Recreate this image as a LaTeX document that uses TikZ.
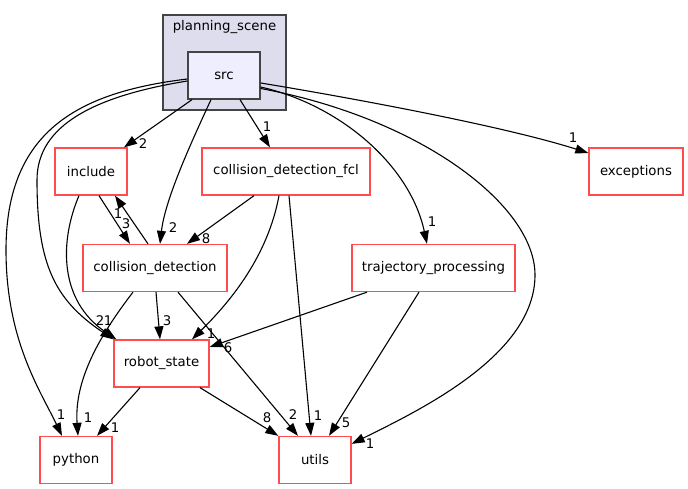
\documentclass[tikz,border=0pt]{standalone}
\usepackage{fontspec}
\setmainfont{DejaVu Sans}
\usetikzlibrary{arrows.meta}
\definecolor{boxred}{HTML}{FF4D4D}
\definecolor{clfill}{HTML}{DDDDEE}
\definecolor{clline}{HTML}{444444}
\definecolor{srcfill}{HTML}{EEEEFF}
\begin{document}
\begin{tikzpicture}[x=1pt,y=-1pt,
  font=\fontsize{13.3}{16}\selectfont,
  dirbox/.style={draw=boxred, line width=1.3pt, fill=white, minimum height=47pt, inner sep=0pt},
  edge/.style={draw=black, line width=1.1pt, -{Triangle[length=13pt,width=9pt]}},
  lab/.style={inner sep=0pt}]
\useasboundingbox (0,0) rectangle (688,489);
% cluster
\node[draw=clline, fill=clfill, line width=1.2pt, minimum width=123pt, minimum height=95pt, inner sep=0pt] (cluster) at (224.5,62.5) {};
\node[lab] (cltitle) at (224.5,27) {planning\_scene};
\node[draw=clline, fill=srcfill, line width=1.3pt, minimum width=72pt, minimum height=47pt, inner sep=0pt] (src) at (224,75.5) {src};
% nodes
\node[dirbox, minimum width=72pt] (inc) at (91,171.5) {include};
\node[dirbox, minimum width=168pt] (fcl) at (286,171.5) {collision\_detection\_fcl};
\node[dirbox, minimum width=94pt] (exc) at (636,171.5) {exceptions};
\node[dirbox, minimum width=144pt] (cd) at (155,268) {collision\_detection};
\node[dirbox, minimum width=163pt] (tp) at (433.5,268) {trajectory\_processing};
\node[dirbox, minimum width=95pt] (rs) at (161.5,363.5) {robot\_state};
\node[dirbox, minimum width=72pt] (py) at (76,460) {python};
\node[dirbox, minimum width=72pt] (ut) at (315,460) {utils};
% edges from src
\draw[edge] ([xshift=-32pt]src.south) -- ([xshift=33pt]inc.north);
\draw[edge] ([xshift=-13pt]src.south) .. controls (190,145) and (165,200) .. ([xshift=5pt]cd.north);
\draw[edge] ([xshift=16pt]src.south) -- ([xshift=-16pt]fcl.north);
\draw[edge] ([yshift=-7.5pt]src.east) .. controls (340,96) and (500,125) .. ([yshift=18.5pt]exc.west);
\draw[edge] ([yshift=-11.5pt]src.east) .. controls (340,105) and (410,165) .. ([xshift=-6.5pt]tp.north);
\coordinate (uturn) at (535,275);
\draw[edge] ([yshift=-13pt]src.east) .. controls (420,118) and (535,205) .. (uturn) .. controls (535,355) and (420,410) .. ([yshift=-8pt]ut.north east);
\coordinate (pyturn) at (6,250);
\draw[edge] ([yshift=-3.5pt]src.west) .. controls (80,92) and (6,130) .. (pyturn) .. controls (6,340) and (40,390) .. ([xshift=-14pt]py.north);
\coordinate (rsturn) at (37,180);
\draw[edge] ([yshift=-5.5pt]src.west) .. controls (95,96) and (37,125) .. (rsturn) .. controls (37,265) and (55,300) .. (rs.north west);
% include / collision_detection
\draw[edge] ([xshift=8pt]inc.south) -- ([xshift=-25pt]cd.north);
\draw[edge] ([xshift=-7pt]cd.north) -- ([xshift=24pt]inc.south);
\draw[edge] ([xshift=-12pt]inc.south) .. controls (60,240) and (58,300) .. ([xshift=3pt]rs.north west);
% fcl
\draw[edge] ([xshift=-32pt]fcl.south) -- ([xshift=32pt]cd.north);
\draw[edge] ([xshift=-7pt]fcl.south) .. controls (268,255) and (232,300) .. ([xshift=30.5pt]rs.north);
\draw[edge] ([xshift=3pt]fcl.south) -- ([xshift=-4pt]ut.north);
% collision_detection
\draw[edge] ([xshift=1pt]cd.south) -- ([xshift=-1.5pt]rs.north);
\draw[edge] ([xshift=-22pt]cd.south) .. controls (100,335) and (74,380) .. ([xshift=2pt]py.north);
\draw[edge] ([xshift=23pt]cd.south) -- ([xshift=-17pt]ut.north);
% trajectory_processing
\draw[edge] ([xshift=-66.5pt]tp.south) -- ([yshift=16.5pt]rs.east);
\draw[edge] ([xshift=-14.5pt]tp.south) -- ([xshift=14pt]ut.north);
% robot_state
\draw[edge] ([xshift=-21.5pt]rs.south) -- ([xshift=21pt]py.north);
\draw[edge] ([xshift=38.5pt]rs.south) -- (ut.north west);
% labels
\node[lab] (l1) at (143,144) {2};
\node[lab] (l2) at (173,228) {2};
\node[lab] (l3) at (267,127) {1};
\node[lab] (l4) at (573,138) {1};
\node[lab] (l5) at (432,222) {1};
\node[lab] (l6) at (370,444) {1};
\node[lab] (l7) at (61,415) {1};
\node[lab] (l8) at (100,321) {2};
\node[lab] (l9) at (126,224) {3};
\node[lab] (l10) at (118,214) {1};
\node[lab] (l11) at (108,321) {1};
\node[lab] (l12) at (206,239) {8};
\node[lab] (l13) at (211,334) {1};
\node[lab] (l14) at (318,416) {1};
\node[lab] (l15) at (167,321) {3};
\node[lab] (l16) at (88,418) {1};
\node[lab] (l17) at (293,415) {2};
\node[lab] (l18) at (228,348) {6};
\node[lab] (l19) at (346,423) {5};
\node[lab] (l20) at (115,428) {1};
\node[lab] (l21) at (267,418) {8};
\end{tikzpicture}
\end{document}
